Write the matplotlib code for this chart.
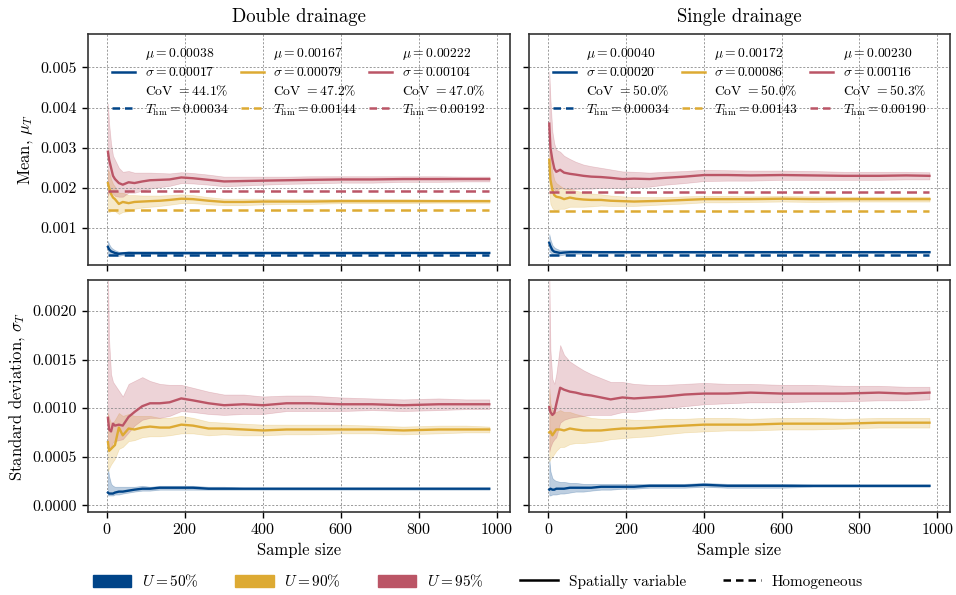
import matplotlib
matplotlib.use('Agg')
import matplotlib.pyplot as plt
from matplotlib.lines import Line2D
from matplotlib.patches import Patch
from matplotlib.ticker import FormatStrFormatter

plt.rcParams['font.family'] = 'serif'
plt.rcParams['font.serif'] = ['cmr10']
plt.rcParams['mathtext.fontset'] = 'cm'
plt.rcParams['axes.formatter.use_mathtext'] = True
plt.rcParams['axes.unicode_minus'] = False

# sample sizes at which the running statistics were read
sizes = [2, 5, 10, 15, 20, 30, 40, 55, 70, 90, 110, 135, 160, 190, 220, 260,
         300, 350, 400, 460, 520, 600, 680, 760, 850, 920, 980]

degrees = ['50', '90', '95']
colors = ['#004488', '#DDAA33', '#BB5566']

# ---- double drainage: running mean (centre, lower, upper) ----
dd_mean_50 = [0.00053, 0.00047, 0.00042, 0.00040, 0.00038, 0.00036, 0.00037, 0.00038, 0.00038, 0.00038, 0.00038, 0.00038, 0.00038, 0.00038,
              0.00038, 0.00038, 0.00038, 0.00038, 0.00038, 0.00038, 0.00038, 0.00038, 0.00038, 0.00038, 0.00038, 0.00038, 0.00038]
dd_mean_50_lo = [0.00038, 0.00036, 0.00033, 0.00032, 0.00032, 0.00031, 0.00033, 0.00034, 0.00035, 0.00035, 0.00035, 0.00035, 0.00035, 0.00035,
                 0.00035, 0.00036, 0.00036, 0.00036, 0.00036, 0.00036, 0.00036, 0.00036, 0.00036, 0.00037, 0.00037, 0.00037, 0.00037]
dd_mean_50_hi = [0.00068, 0.00060, 0.00052, 0.00048, 0.00045, 0.00041, 0.00041, 0.00042, 0.00041, 0.00041, 0.00041, 0.00041, 0.00041, 0.00041,
                 0.00041, 0.00040, 0.00040, 0.00040, 0.00040, 0.00040, 0.00040, 0.00040, 0.00040, 0.00039, 0.00039, 0.00039, 0.00039]
dd_mean_90 = [0.00212, 0.00200, 0.00185, 0.00176, 0.00172, 0.00160, 0.00165, 0.00162, 0.00165, 0.00166, 0.00167, 0.00168, 0.00170, 0.00173,
              0.00172, 0.00168, 0.00165, 0.00165, 0.00166, 0.00166, 0.00166, 0.00167, 0.00167, 0.00167, 0.00167, 0.00167, 0.00167]
dd_mean_90_lo = [0.00140, 0.00140, 0.00142, 0.00142, 0.00142, 0.00135, 0.00140, 0.00142, 0.00148, 0.00151, 0.00153, 0.00155, 0.00158, 0.00162,
                 0.00162, 0.00159, 0.00157, 0.00157, 0.00159, 0.00160, 0.00160, 0.00162, 0.00162, 0.00162, 0.00163, 0.00163, 0.00163]
dd_mean_90_hi = [0.00245, 0.00240, 0.00222, 0.00210, 0.00203, 0.00188, 0.00188, 0.00182, 0.00182, 0.00181, 0.00181, 0.00181, 0.00182, 0.00184,
                 0.00182, 0.00177, 0.00173, 0.00173, 0.00173, 0.00172, 0.00172, 0.00172, 0.00172, 0.00172, 0.00171, 0.00171, 0.00171]
dd_mean_95 = [0.00290, 0.00270, 0.00250, 0.00230, 0.00222, 0.00212, 0.00208, 0.00214, 0.00212, 0.00216, 0.00219, 0.00220, 0.00221, 0.00226,
              0.00224, 0.00220, 0.00216, 0.00217, 0.00218, 0.00219, 0.00220, 0.00221, 0.00221, 0.00222, 0.00222, 0.00222, 0.00222]
dd_mean_95_lo = [0.00180, 0.00190, 0.00190, 0.00185, 0.00180, 0.00178, 0.00178, 0.00188, 0.00188, 0.00193, 0.00198, 0.00202, 0.00205, 0.00212,
                 0.00211, 0.00208, 0.00204, 0.00206, 0.00208, 0.00210, 0.00211, 0.00213, 0.00213, 0.00215, 0.00215, 0.00216, 0.00216]
dd_mean_95_hi = [0.00410, 0.00360, 0.00310, 0.00280, 0.00270, 0.00250, 0.00240, 0.00242, 0.00238, 0.00238, 0.00238, 0.00237, 0.00236, 0.00239,
                 0.00237, 0.00233, 0.00228, 0.00228, 0.00228, 0.00228, 0.00229, 0.00229, 0.00229, 0.00229, 0.00229, 0.00228, 0.00228]

# ---- double drainage: running standard deviation ----
dd_std_50 = [0.00013, 0.00012, 0.00012, 0.00012, 0.00013, 0.00014, 0.00014, 0.00015, 0.00016, 0.00017, 0.00017, 0.00018, 0.00018, 0.00018,
             0.00018, 0.00017, 0.00017, 0.00017, 0.00017, 0.00017, 0.00017, 0.00017, 0.00017, 0.00017, 0.00017, 0.00017, 0.00017]
dd_std_50_lo = [0.00010, 0.00010, 0.00010, 0.00010, 0.00011, 0.00011, 0.00012, 0.00013, 0.00014, 0.00015, 0.00015, 0.00016, 0.00016, 0.00016,
                0.00016, 0.00016, 0.00016, 0.00016, 0.00016, 0.00016, 0.00016, 0.00016, 0.00016, 0.00016, 0.00016, 0.00016, 0.00016]
dd_std_50_hi = [0.00038, 0.00030, 0.00022, 0.00020, 0.00019, 0.00019, 0.00019, 0.00019, 0.00019, 0.00020, 0.00019, 0.00020, 0.00020, 0.00020,
                0.00020, 0.00019, 0.00019, 0.00018, 0.00018, 0.00018, 0.00018, 0.00018, 0.00018, 0.00018, 0.00018, 0.00018, 0.00018]
dd_std_90 = [0.00065, 0.00056, 0.00058, 0.00060, 0.00062, 0.00080, 0.00072, 0.00079, 0.00078, 0.00080, 0.00081, 0.00080, 0.00080, 0.00083,
             0.00082, 0.00079, 0.00079, 0.00078, 0.00077, 0.00078, 0.00078, 0.00078, 0.00078, 0.00077, 0.00078, 0.00078, 0.00078]
dd_std_90_lo = [0.00035, 0.00038, 0.00042, 0.00045, 0.00048, 0.00058, 0.00060, 0.00066, 0.00067, 0.00070, 0.00071, 0.00071, 0.00072, 0.00074,
                0.00074, 0.00072, 0.00073, 0.00072, 0.00072, 0.00073, 0.00073, 0.00074, 0.00074, 0.00073, 0.00074, 0.00075, 0.00075]
dd_std_90_hi = [0.00095, 0.00090, 0.00085, 0.00085, 0.00088, 0.00095, 0.00092, 0.00094, 0.00092, 0.00092, 0.00092, 0.00090, 0.00090, 0.00092,
                0.00090, 0.00086, 0.00085, 0.00084, 0.00083, 0.00083, 0.00083, 0.00083, 0.00082, 0.00081, 0.00082, 0.00082, 0.00081]
dd_std_95 = [0.00090, 0.00078, 0.00076, 0.00084, 0.00082, 0.00083, 0.00082, 0.00091, 0.00096, 0.00102, 0.00105, 0.00105, 0.00106, 0.00110,
             0.00108, 0.00105, 0.00103, 0.00104, 0.00103, 0.00105, 0.00105, 0.00104, 0.00104, 0.00103, 0.00104, 0.00104, 0.00104]
dd_std_95_lo = [0.00060, 0.00058, 0.00060, 0.00065, 0.00066, 0.00067, 0.00068, 0.00075, 0.00082, 0.00088, 0.00090, 0.00090, 0.00092, 0.00097,
                0.00096, 0.00094, 0.00093, 0.00094, 0.00094, 0.00097, 0.00097, 0.00097, 0.00098, 0.00097, 0.00098, 0.00099, 0.00099]
dd_std_95_hi = [0.00240, 0.00170, 0.00135, 0.00127, 0.00124, 0.00118, 0.00112, 0.00125, 0.00128, 0.00132, 0.00128, 0.00125, 0.00124, 0.00124,
                0.00121, 0.00117, 0.00114, 0.00114, 0.00112, 0.00113, 0.00113, 0.00111, 0.00110, 0.00109, 0.00110, 0.00109, 0.00109]

# ---- single drainage: running mean ----
sd_mean_50 = [0.00063, 0.00055, 0.00045, 0.00041, 0.00040, 0.00038, 0.00039, 0.00040, 0.00040, 0.00040, 0.00040, 0.00040, 0.00040, 0.00040,
              0.00040, 0.00040, 0.00040, 0.00040, 0.00040, 0.00040, 0.00040, 0.00040, 0.00040, 0.00040, 0.00040, 0.00040, 0.00040]
sd_mean_50_lo = [0.00041, 0.00040, 0.00034, 0.00033, 0.00033, 0.00032, 0.00034, 0.00035, 0.00036, 0.00036, 0.00037, 0.00037, 0.00037, 0.00037,
                 0.00037, 0.00037, 0.00037, 0.00038, 0.00038, 0.00038, 0.00038, 0.00038, 0.00038, 0.00038, 0.00038, 0.00038, 0.00038]
sd_mean_50_hi = [0.00085, 0.00072, 0.00058, 0.00052, 0.00049, 0.00045, 0.00045, 0.00045, 0.00045, 0.00044, 0.00044, 0.00043, 0.00043, 0.00043,
                 0.00043, 0.00043, 0.00043, 0.00042, 0.00042, 0.00042, 0.00042, 0.00042, 0.00042, 0.00042, 0.00042, 0.00042, 0.00042]
sd_mean_90 = [0.00270, 0.00220, 0.00195, 0.00182, 0.00178, 0.00176, 0.00172, 0.00176, 0.00173, 0.00171, 0.00170, 0.00170, 0.00168, 0.00167,
              0.00166, 0.00167, 0.00168, 0.00170, 0.00172, 0.00172, 0.00172, 0.00173, 0.00172, 0.00172, 0.00172, 0.00172, 0.00172]
sd_mean_90_lo = [0.00190, 0.00160, 0.00150, 0.00145, 0.00145, 0.00148, 0.00148, 0.00153, 0.00153, 0.00153, 0.00154, 0.00156, 0.00155, 0.00155,
                 0.00155, 0.00157, 0.00159, 0.00161, 0.00164, 0.00164, 0.00165, 0.00166, 0.00165, 0.00166, 0.00166, 0.00166, 0.00166]
sd_mean_90_hi = [0.00310, 0.00270, 0.00240, 0.00220, 0.00212, 0.00205, 0.00198, 0.00198, 0.00193, 0.00189, 0.00186, 0.00184, 0.00181, 0.00179,
                 0.00177, 0.00177, 0.00177, 0.00179, 0.00180, 0.00180, 0.00179, 0.00180, 0.00179, 0.00178, 0.00178, 0.00178, 0.00178]
sd_mean_95 = [0.00360, 0.00300, 0.00270, 0.00248, 0.00240, 0.00245, 0.00238, 0.00235, 0.00233, 0.00230, 0.00228, 0.00227, 0.00225, 0.00222,
              0.00223, 0.00222, 0.00225, 0.00228, 0.00232, 0.00232, 0.00231, 0.00232, 0.00231, 0.00230, 0.00230, 0.00231, 0.00230]
sd_mean_95_lo = [0.00240, 0.00210, 0.00200, 0.00195, 0.00192, 0.00200, 0.00198, 0.00196, 0.00197, 0.00198, 0.00198, 0.00200, 0.00200, 0.00200,
                 0.00202, 0.00203, 0.00208, 0.00212, 0.00217, 0.00218, 0.00218, 0.00220, 0.00220, 0.00220, 0.00220, 0.00221, 0.00221]
sd_mean_95_hi = [0.00490, 0.00420, 0.00340, 0.00310, 0.00295, 0.00290, 0.00280, 0.00272, 0.00265, 0.00258, 0.00254, 0.00250, 0.00246, 0.00241,
                 0.00240, 0.00238, 0.00240, 0.00242, 0.00245, 0.00244, 0.00243, 0.00243, 0.00242, 0.00240, 0.00240, 0.00240, 0.00239]

# ---- single drainage: running standard deviation ----
sd_std_50 = [0.00016, 0.00017, 0.00016, 0.00016, 0.00017, 0.00017, 0.00017, 0.00018, 0.00018, 0.00018, 0.00018, 0.00019, 0.00019, 0.00019,
             0.00019, 0.00020, 0.00020, 0.00020, 0.00021, 0.00020, 0.00020, 0.00020, 0.00020, 0.00020, 0.00020, 0.00020, 0.00020]
sd_std_50_lo = [0.00010, 0.00010, 0.00011, 0.00011, 0.00011, 0.00012, 0.00012, 0.00013, 0.00014, 0.00014, 0.00015, 0.00016, 0.00016, 0.00017,
                0.00017, 0.00018, 0.00018, 0.00018, 0.00019, 0.00018, 0.00018, 0.00018, 0.00019, 0.00019, 0.00019, 0.00019, 0.00019]
sd_std_50_hi = [0.00048, 0.00035, 0.00028, 0.00026, 0.00025, 0.00024, 0.00024, 0.00023, 0.00023, 0.00022, 0.00022, 0.00022, 0.00022, 0.00022,
                0.00022, 0.00022, 0.00022, 0.00022, 0.00023, 0.00022, 0.00022, 0.00022, 0.00021, 0.00021, 0.00021, 0.00021, 0.00021]
sd_std_90 = [0.00075, 0.00076, 0.00072, 0.00075, 0.00078, 0.00078, 0.00077, 0.00079, 0.00078, 0.00077, 0.00077, 0.00077, 0.00078, 0.00079,
             0.00079, 0.00080, 0.00081, 0.00082, 0.00083, 0.00083, 0.00083, 0.00084, 0.00084, 0.00084, 0.00085, 0.00085, 0.00085]
sd_std_90_lo = [0.00045, 0.00048, 0.00050, 0.00053, 0.00056, 0.00060, 0.00060, 0.00063, 0.00064, 0.00064, 0.00065, 0.00066, 0.00068, 0.00069,
                0.00070, 0.00071, 0.00073, 0.00075, 0.00076, 0.00077, 0.00077, 0.00078, 0.00078, 0.00079, 0.00080, 0.00080, 0.00080]
sd_std_90_hi = [0.00120, 0.00105, 0.00098, 0.00096, 0.00096, 0.00098, 0.00096, 0.00096, 0.00094, 0.00092, 0.00090, 0.00089, 0.00089, 0.00089,
                0.00088, 0.00088, 0.00089, 0.00089, 0.00090, 0.00090, 0.00089, 0.00090, 0.00090, 0.00089, 0.00090, 0.00090, 0.00090]
sd_std_95 = [0.00101, 0.00096, 0.00093, 0.00095, 0.00104, 0.00121, 0.00119, 0.00117, 0.00116, 0.00114, 0.00113, 0.00111, 0.00109, 0.00111,
             0.00110, 0.00111, 0.00112, 0.00114, 0.00115, 0.00115, 0.00116, 0.00115, 0.00115, 0.00115, 0.00116, 0.00115, 0.00116]
sd_std_95_lo = [0.00055, 0.00060, 0.00065, 0.00068, 0.00070, 0.00085, 0.00088, 0.00090, 0.00091, 0.00092, 0.00093, 0.00093, 0.00093, 0.00096,
                0.00096, 0.00098, 0.00100, 0.00102, 0.00104, 0.00105, 0.00106, 0.00106, 0.00107, 0.00107, 0.00108, 0.00108, 0.00109]
sd_std_95_hi = [0.00240, 0.00160, 0.00130, 0.00125, 0.00135, 0.00165, 0.00155, 0.00148, 0.00144, 0.00139, 0.00135, 0.00131, 0.00127, 0.00127,
                0.00125, 0.00124, 0.00124, 0.00125, 0.00126, 0.00125, 0.00125, 0.00124, 0.00124, 0.00123, 0.00123, 0.00122, 0.00122]

# homogeneous settlement time and final statistics for the legends
dd_hom = [0.00034, 0.00144, 0.00192]
sd_hom = [0.00034, 0.00143, 0.00190]
dd_mu = ['0.00038', '0.00167', '0.00222']
dd_sigma = ['0.00017', '0.00079', '0.00104']
dd_cov = ['44.1', '47.2', '47.0']
sd_mu = ['0.00040', '0.00172', '0.00230']
sd_sigma = ['0.00020', '0.00086', '0.00116']
sd_cov = ['50.0', '50.0', '50.3']

panels = {
    'dd_mean': [(dd_mean_50, dd_mean_50_lo, dd_mean_50_hi), (dd_mean_90, dd_mean_90_lo, dd_mean_90_hi),
                (dd_mean_95, dd_mean_95_lo, dd_mean_95_hi)],
    'sd_mean': [(sd_mean_50, sd_mean_50_lo, sd_mean_50_hi), (sd_mean_90, sd_mean_90_lo, sd_mean_90_hi),
                (sd_mean_95, sd_mean_95_lo, sd_mean_95_hi)],
    'dd_std': [(dd_std_50, dd_std_50_lo, dd_std_50_hi), (dd_std_90, dd_std_90_lo, dd_std_90_hi),
               (dd_std_95, dd_std_95_lo, dd_std_95_hi)],
    'sd_std': [(sd_std_50, sd_std_50_lo, sd_std_50_hi), (sd_std_90, sd_std_90_lo, sd_std_90_hi),
               (sd_std_95, sd_std_95_lo, sd_std_95_hi)],
}

fig = plt.figure(figsize=(9.56, 5.95), dpi=100)
ax_dm = fig.add_axes([0.0917, 0.5546, 0.4417, 0.3882])
ax_sm = fig.add_axes([0.5534, 0.5546, 0.4404, 0.3882], sharey=ax_dm)
ax_ds = fig.add_axes([0.0917, 0.1395, 0.4417, 0.3899], sharex=ax_dm)
ax_ss = fig.add_axes([0.5534, 0.1395, 0.4404, 0.3899], sharey=ax_ds, sharex=ax_sm)

layout = [(ax_dm, 'dd_mean'), (ax_sm, 'sd_mean'), (ax_ds, 'dd_std'), (ax_ss, 'sd_std')]

for ax, key in layout:
    for (y, lo, hi), c in zip(panels[key], colors):
        ax.fill_between(sizes, lo, hi, color=c, alpha=0.26, lw=0.5)
        ax.plot(sizes, y, color=c, lw=1.7)
    ax.grid(True, color='0.55', ls=(0, (2.5, 2)), lw=0.6)
    ax.tick_params(direction='out', length=4, width=1, labelsize=11.5)
    for sp in ax.spines.values():
        sp.set_linewidth(1.2)
        sp.set_color('0.2')
    ax.set_xticks([0, 200, 400, 600, 800, 1000])
    ax.set_xlim(-50, 1033)

# homogeneous reference lines and stats legends on the mean panels
for ax, hom, mus, sigs, covs in [(ax_dm, dd_hom, dd_mu, dd_sigma, dd_cov),
                                 (ax_sm, sd_hom, sd_mu, sd_sigma, sd_cov)]:
    handles = []
    for c, t, m, s, v in zip(colors, hom, mus, sigs, covs):
        ax.plot([sizes[0], sizes[-1]], [t, t], color=c, lw=1.8, ls=(0, (4, 2.5)))
        handles.append((Line2D([], [], color=c, lw=1.8),
                        '$\\mu = ' + m + '$\n$\\sigma = ' + s + '$\nCoV $= ' + v + '\\%$'))
        handles.append((Line2D([], [], color=c, lw=1.8, ls=(0, (3, 2))),
                        '$T_{\\mathrm{hm}} = ' + '%.5f' % t + '$'))
    leg = ax.legend([h for h, _ in handles], [l for _, l in handles], loc='upper center',
                    ncol=3, frameon=False, fontsize=9.8, handlelength=1.7, handletextpad=0.7,
                    columnspacing=0.9, labelspacing=0.3, borderaxespad=0.5)
    for txt in leg.get_texts():
        txt.set_linespacing(1.4)

ax_dm.set_ylim(0.00008, 0.00583)
ax_dm.set_yticks([0.001, 0.002, 0.003, 0.004, 0.005])
ax_dm.yaxis.set_major_formatter(FormatStrFormatter('%.3f'))
ax_ds.set_ylim(-0.00007, 0.00232)
ax_ds.set_yticks([0.0, 0.0005, 0.0010, 0.0015, 0.0020])
ax_ds.yaxis.set_major_formatter(FormatStrFormatter('%.4f'))

for ax in (ax_dm, ax_sm):
    ax.tick_params(labelbottom=False)
for ax in (ax_sm, ax_ss):
    ax.tick_params(labelleft=False)

ax_dm.set_title('Double drainage', fontsize=13.5, pad=9)
ax_sm.set_title('Single drainage', fontsize=13.5, pad=9)
ax_dm.set_ylabel('Mean, $\\mu_T$', fontsize=12)
ax_ds.set_ylabel('Standard deviation, $\\sigma_T$', fontsize=12)
ax_ds.set_xlabel('Sample size', fontsize=12)
ax_ss.set_xlabel('Sample size', fontsize=12)

leg_handles = [Patch(color=c) for c in colors] + [
    Line2D([], [], color='k', lw=1.8),
    Line2D([], [], color='k', lw=1.8, ls=(0, (3, 2)))]
leg_labels = ['$U = ' + d + '\\%$' for d in degrees] + ['Spatially variable', 'Homogeneous']
fig.legend(leg_handles, leg_labels, loc='center', bbox_to_anchor=(0.5, 1 - 581 / 595),
           ncol=5, frameon=False, fontsize=11, handlelength=2.5, handleheight=0.9,
           columnspacing=2.4, handletextpad=0.7)

fig.savefig('out.png', dpi=100)
